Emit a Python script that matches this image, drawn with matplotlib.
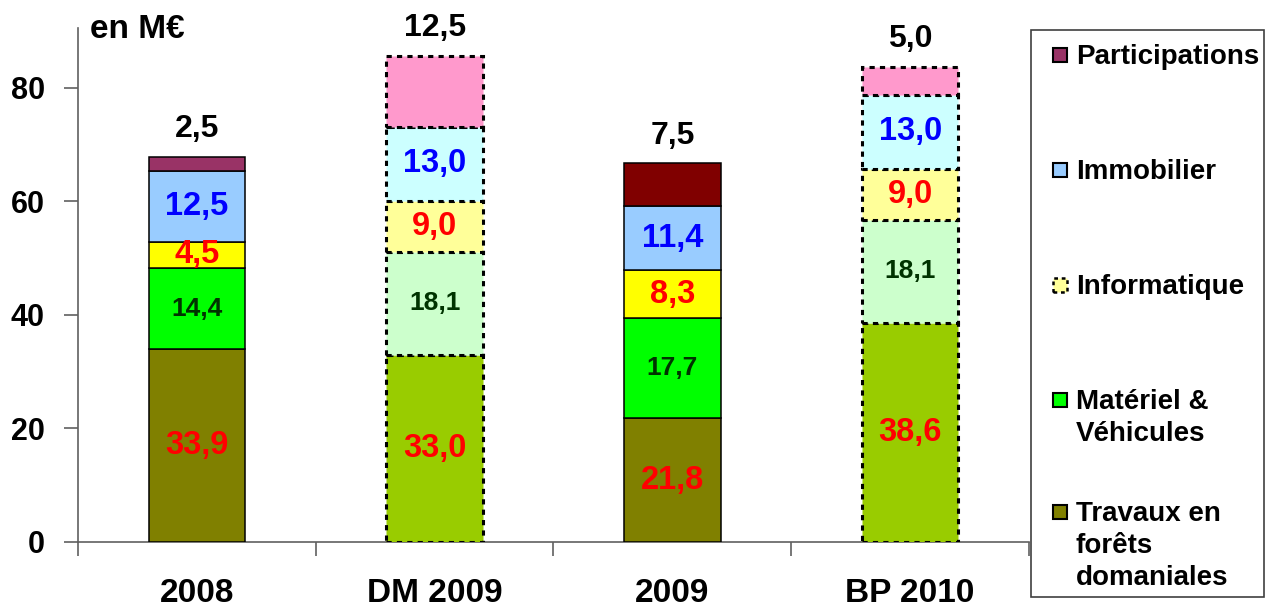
import matplotlib
matplotlib.use("Agg")
import matplotlib.pyplot as plt
from matplotlib.patches import Rectangle
import numpy as np

plt.rcParams['font.family'] = ['Liberation Sans', 'DejaVu Sans']
plt.rcParams['font.weight'] = 'bold'

# donnees (en M€)
categories = ['2008', 'DM 2009', '2009', 'BP 2010']
travaux = [33.9, 33.0, 21.8, 38.6]
materiel = [14.4, 18.1, 17.7, 18.1]
informatique = [4.5, 9.0, 8.3, 9.0]
immobilier = [12.5, 13.0, 11.4, 13.0]
participations = [2.5, 12.5, 7.5, 5.0]
previsionnel = [False, True, False, True]  # barres en pointilles

legend_labels = ['Participations', 'Immobilier', 'Informatique',
                 'Matériel &\nVéhicules', 'Travaux en\nforêts\ndomaniales']

# couleurs : (realise, previsionnel)
col_travaux = ['#808000', '#99CC00', '#808000', '#99CC00']
col_materiel = ['#00FF00', '#CCFFCC', '#00FF00', '#CCFFCC']
col_info = ['#FFFF00', '#FFFF99', '#FFFF00', '#FFFF99']
col_immo = ['#99CCFF', '#CCFFFF', '#99CCFF', '#CCFFFF']
col_part = ['#993366', '#FF99CC', '#800000', '#FF99CC']

def fmt(v):
    return f"{v:.1f}".replace('.', ',')

fig = plt.figure(figsize=(12.66, 6.08), dpi=100)
ax = fig.add_axes([0.0616, 0.1086, 0.7512, 0.8454])

x = np.arange(len(categories))
w = 0.405
series = [(travaux, col_travaux, 'red', 23.5),
          (materiel, col_materiel, '#003300', 19),
          (informatique, col_info, 'red', 23.5),
          (immobilier, col_immo, 'blue', 23.5),
          (participations, col_part, None, 0)]

bottom = np.zeros(len(categories))
containers = []
for vals, cols, tcol, tsize in series:
    bc = ax.bar(x, vals, w, bottom=bottom, color=cols, edgecolor='black',
                linewidth=1.1, zorder=3)
    for p, dash in zip(bc.patches, previsionnel):
        if dash:
            p.set_linestyle((0, (1.7, 1.7)))
            p.set_linewidth(2.2)
    if tcol is not None:
        ax.bar_label(bc, labels=[fmt(v) for v in vals], label_type='center',
                     color=tcol, fontsize=tsize, fontweight='bold', zorder=5)
    containers.append(bc)
    bottom += np.array(vals)

ax.bar_label(containers[-1], labels=[fmt(v) for v in participations],
             label_type='edge', padding=9, fontsize=23, fontweight='bold',
             color='black')

ax.set_xlim(-0.5, len(categories) - 0.5)
ax.set_ylim(0, 90.5)
ax.set_yticks([0, 20, 40, 60, 80])
ax.set_xticks(x)
ax.set_xticklabels(categories)
ax.set_xticks(np.arange(-0.5, len(categories)), minor=True)
ax.tick_params(axis='x', which='major', length=0, pad=26, labelsize=24)
ax.tick_params(axis='x', which='minor', length=10, width=1.2, color='#606060',
               direction='out')
ax.tick_params(axis='y', length=10, width=1.2, color='#606060', pad=14,
               labelsize=22, direction='out')
for s in ['top', 'right']:
    ax.spines[s].set_visible(False)
for s in ['left', 'bottom']:
    ax.spines[s].set_color('#606060')
    ax.spines[s].set_linewidth(1.2)

fig.text(90 / 1266, 1 - 30 / 608, 'en M€', fontsize=24, fontweight='bold',
         ha='left', va='center')

# legende
W, H = 1266, 608
fig.patches.append(Rectangle((1031 / W, 1 - 597 / H), 233 / W, 567 / H,
                             transform=fig.transFigure, facecolor='white',
                             edgecolor='#404040', linewidth=1.2))
leg_colors = ['#993366', '#99CCFF', '#FFFF99', '#00FF00', '#808000']
leg_dashed = [False, False, True, False, False]
leg_y = [55, 170, 285, 400, 512]
for lab, c, d, yy in zip(legend_labels, leg_colors, leg_dashed, leg_y):
    r = Rectangle((1053 / W, 1 - (yy + 7) / H), 14 / W, 14 / H,
                  transform=fig.transFigure, facecolor=c, edgecolor='black',
                  linewidth=1.5 if not d else 1.8,
                  linestyle=(0, (1.5, 1.5)) if d else '-')
    fig.patches.append(r)
    fig.text(1076 / W, 1 - (yy - 11) / H, lab, fontsize=20, fontweight='bold',
             ha='left', va='top', linespacing=1.3)

fig.savefig('out.png', dpi=100)
